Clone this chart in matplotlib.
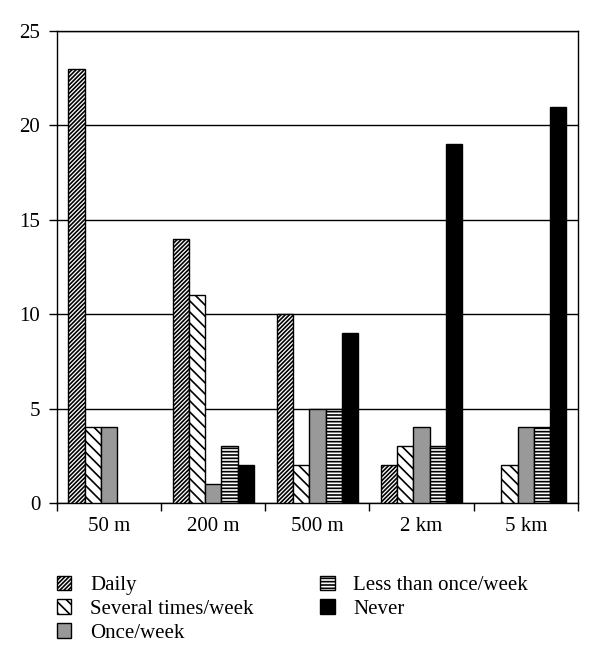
import numpy as np
import matplotlib.pyplot as plt
from matplotlib.ticker import FixedLocator, NullFormatter

plt.rcParams['font.family'] = ['Liberation Serif', 'DejaVu Serif']
plt.rcParams['hatch.linewidth'] = 1.2

# 数据
distances = ['50 m', '200 m', '500 m', '2 km', '5 km']
daily = [23, 14, 10, 2, 0]
several = [4, 11, 2, 3, 2]
once = [4, 1, 5, 4, 4]
less_once = [0, 3, 5, 3, 4]
never = [0, 2, 9, 19, 21]

series = [
    ('Daily', daily, 'white', '////////'),
    ('Several times/week', several, 'white', '\\\\\\'),
    ('Once/week', once, '#999999', None),
    ('Less than once/week', less_once, 'white', '-----'),
    ('Never', never, 'black', None),
]

fig = plt.figure(figsize=(6, 6.71), dpi=100)
ax = fig.add_axes([0.095, 0.2504, 0.868, 0.7034])

x = np.arange(len(distances))
w = 0.156
for k, (name, vals, fc, hatch) in enumerate(series):
    lw = [1.0 if v > 0 else 0 for v in vals]  # 零值不画边框
    ax.bar(x + (k - 2) * w, vals, w, color=fc, edgecolor='black',
           hatch=hatch, linewidth=lw, label=name, zorder=3)

ax.set_xlim(-0.5, len(distances) - 0.5)
ax.set_ylim(0, 25)
ax.set_yticks([0, 5, 10, 15, 20, 25])
ax.yaxis.grid(True, color='black', linewidth=1.0, zorder=0)
ax.tick_params(axis='y', direction='out', length=6, width=1, labelsize=15, pad=6)

ax.set_xticks(x)
ax.set_xticklabels(distances)
ax.xaxis.set_minor_locator(FixedLocator(np.arange(-0.5, len(distances), 1.0)))
ax.xaxis.set_minor_formatter(NullFormatter())
ax.tick_params(axis='x', which='major', length=0, labelsize=15, pad=10)
ax.tick_params(axis='x', which='minor', direction='out', length=6, width=1)
for s in ax.spines.values():
    s.set_linewidth(1.0)

leg = fig.legend(loc='upper left', bbox_to_anchor=(0.063, 0.17), ncol=2,
                 frameon=False, fontsize=15, handlelength=0.7, handleheight=0.7,
                 labelspacing=0.2, columnspacing=3.2, handletextpad=0.9)
for h in leg.legend_handles:
    h.set_linewidth(1.0)

plt.savefig('out.png')
